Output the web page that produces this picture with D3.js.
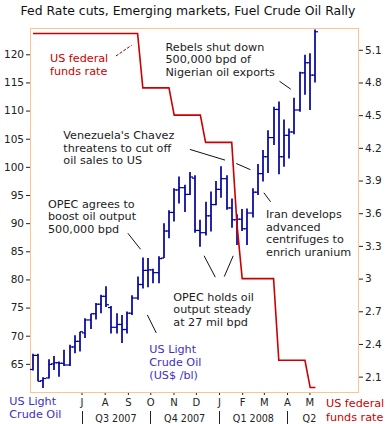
<!DOCTYPE html>
<html>
<head>
<meta charset="utf-8">
<script src="https://cdn.jsdelivr.net/npm/d3@7"></script>
<style>
body { margin: 0; background: #fff; }
svg { display: block; font-family: "DejaVu Sans", Verdana, sans-serif; }
</style>
</head>
<body>
<div id="chart"></div>
<script>
// weekly US light crude bars, week ending friday
var weeks = ["2007-04-27","2007-05-04","2007-05-11","2007-05-18","2007-05-25","2007-06-01","2007-06-08","2007-06-15","2007-06-22","2007-06-29",
  "2007-07-06","2007-07-13","2007-07-20","2007-07-27","2007-08-03","2007-08-10","2007-08-17","2007-08-24","2007-08-31","2007-09-07",
  "2007-09-14","2007-09-21","2007-09-28","2007-10-05","2007-10-12","2007-10-19","2007-10-26","2007-11-02","2007-11-09","2007-11-16",
  "2007-11-23","2007-11-30","2007-12-07","2007-12-14","2007-12-21","2007-12-28","2008-01-04","2008-01-11","2008-01-18","2008-01-25",
  "2008-02-01","2008-02-08","2008-02-15","2008-02-22","2008-02-29","2008-03-07","2008-03-14","2008-03-21","2008-03-28","2008-04-04",
  "2008-04-11","2008-04-18","2008-04-25","2008-05-02","2008-05-09"];
var open = [64.0,66.5,62.0,62.5,65.0,65.2,65.1,64.8,68.0,69.0,70.5,72.8,73.9,75.6,77.0,75.0,71.5,72.0,71.1,74.0,
  76.7,79.1,81.6,81.7,81.2,83.8,88.6,91.9,95.9,96.3,95.1,98.0,88.7,88.3,91.3,93.3,96.0,97.9,92.7,90.6,
  90.7,89.0,91.8,95.5,98.8,101.8,105.2,110.2,101.8,105.6,106.2,110.1,116.7,118.5,116.3];
var high = [66.8,66.8,62.6,65.8,66.4,65.4,67.5,68.4,70.1,70.7,73.1,73.9,75.8,77.3,78.8,75.3,74.0,73.7,74.3,77.2,
  80.5,83.9,83.8,81.9,84.1,90.0,92.3,96.2,98.3,96.8,99.1,98.5,90.6,93.8,95.6,97.5,100.1,98.5,94.4,91.6,
  92.5,92.6,96.2,100.5,103.0,106.5,110.7,111.6,108.4,106.8,112.3,116.9,119.9,120.2,124.4];
var low = [63.8,61.9,60.7,62.4,63.9,62.7,64.6,64.6,66.9,67.2,69.6,71.2,72.9,74.0,75.1,70.4,70.4,68.7,70.4,73.7,
  76.4,78.4,78.6,79.3,79.3,83.8,87.3,90.3,93.5,92.0,95.0,88.3,85.8,87.8,88.5,93.2,94.5,92.4,89.2,86.1,
  88.6,86.1,91.0,95.0,97.4,98.9,103.9,98.7,100.0,101.5,105.8,109.8,112.8,110.1,115.0];
var close = [66.5,61.9,62.4,64.9,65.2,65.1,64.8,68.0,69.0,70.7,72.8,73.9,75.6,77.0,75.5,71.5,72.0,71.1,74.0,76.7,
  79.1,81.6,81.7,81.2,83.7,88.6,91.9,95.9,96.3,95.1,98.2,88.7,88.3,91.3,93.3,96.0,97.9,92.7,90.6,90.7,
  89.0,91.8,95.5,98.8,101.8,105.2,110.2,101.8,105.6,106.2,110.1,116.7,118.5,116.3,124.0];

// fed funds target, same weeks
var fedRate = [5.25,5.25,5.25,5.25,5.25,5.25,5.25,5.25,5.25,5.25,5.25,5.25,5.25,5.25,5.25,5.25,5.25,5.25,5.25,5.25,
  5.25,4.75,4.75,4.75,4.75,4.75,4.75,4.5,4.5,4.5,4.5,4.5,4.5,4.25,4.25,4.25,4.25,4.25,4.25,3.5,
  3.0,3.0,3.0,3.0,3.0,3.0,3.0,2.25,2.25,2.25,2.25,2.25,2.25,2.0,2.0];

var priceTicks = [65,70,75,80,85,90,95,100,105,110,115,120];
var rateTicks = [2.1,2.4,2.7,3.0,3.3,3.6,3.9,4.2,4.5,4.8,5.1];
var monthTicks = ["2007-07-01","2007-08-01","2007-09-01","2007-10-01","2007-11-01","2007-12-01","2008-01-01","2008-02-01","2008-03-01","2008-04-01","2008-05-01"];
var monthLabels = ["J","A","S","O","N","D","J","F","M","A","M"];
var quarterBreaks = ["2007-07-01","2007-10-01","2008-01-01","2008-04-01"];
var quarterMids = ["2007-08-16","2007-11-16","2008-02-16","2008-05-01"];
var quarterLabels = ["Q3 2007","Q4 2007","Q1 2008","Q2"];

var W = 390, H = 424;
var plot = {left: 30, right: 358, top: 28, bottom: 392};
var parse = d3.timeParse("%Y-%m-%d");

var svg = d3.select("#chart").append("svg")
    .attr("width", W)
    .attr("height", H);

var x = d3.scaleTime()
    .domain([parse("2007-04-23"), parse("2008-07-05")])
    .range([plot.left, plot.right]);
var y = d3.scaleLinear()
    .domain([60, 124.67])
    .range([plot.bottom, plot.top]);
var yRate = d3.scaleLinear()
    .domain([1.959, 5.30])
    .range([plot.bottom, plot.top]);

// title
svg.append("text")
    .attr("x", 188).attr("y", 14.5)
    .attr("text-anchor", "middle")
    .style("font-size", "12.4px")
    .attr("fill", "#111")
    .text("Fed Rate cuts, Emerging markets, Fuel Crude Oil Rally");

// axes
var axisColor = "#222";
var gl = svg.append("g")
    .attr("transform", "translate(" + plot.left + ",0)")
    .call(d3.axisLeft(y).tickValues(priceTicks).tickSize(4).tickPadding(2));
var gr = svg.append("g")
    .attr("transform", "translate(" + plot.right + ",0)")
    .call(d3.axisRight(yRate).tickValues(rateTicks).tickSize(5).tickPadding(2)
      .tickFormat(function(d) { return String(+d.toFixed(1)); }));
var gb = svg.append("g")
    .attr("transform", "translate(0," + plot.bottom + ")")
    .call(d3.axisBottom(x).tickValues(monthTicks.map(parse)).tickSize(3).tickPadding(4)
      .tickFormat(function(d, i) { return monthLabels[i]; }));

[gl, gr, gb].forEach(function(g) {
  g.select(".domain").remove();
  g.selectAll(".tick line").attr("stroke", axisColor);
  g.selectAll(".tick text")
    .attr("fill", axisColor)
    .style("font-family", "DejaVu Sans, Verdana, sans-serif")
    .style("font-size", "10.5px");
});
gb.selectAll(".tick text").style("font-size", "10px");

// quarter row
svg.append("g").selectAll("line")
    .data(quarterBreaks)
  .enter().append("line")
    .attr("x1", function(d) { return Math.round(x(parse(d))) + 0.5; })
    .attr("x2", function(d) { return Math.round(x(parse(d))) + 0.5; })
    .attr("y1", 411).attr("y2", 424)
    .attr("stroke", axisColor);
svg.append("g").selectAll("text")
    .data(quarterLabels)
  .enter().append("text")
    .attr("x", function(d, i) { return x(parse(quarterMids[i])); })
    .attr("y", 421.5)
    .attr("text-anchor", "middle")
    .attr("fill", axisColor)
    .style("font-size", "9.6px")
    .text(function(d) { return d; });

// plot frame
svg.append("rect")
    .attr("x", plot.left + 0.5).attr("y", plot.top + 0.5)
    .attr("width", plot.right - plot.left).attr("height", plot.bottom - plot.top)
    .attr("fill", "none")
    .attr("stroke", "#fcc58c");

svg.append("clipPath").attr("id", "clip")
  .append("rect")
    .attr("x", plot.left).attr("y", plot.top - 4)
    .attr("width", plot.right - plot.left).attr("height", plot.bottom - plot.top + 4);

var bars = weeks.map(function(d, i) {
  return {date: parse(d), o: open[i], h: high[i], l: low[i], c: close[i], rate: fedRate[i]};
});

// OHLC bars
var barColor = "#00009c";
var g = svg.append("g").attr("clip-path", "url(#clip)");
var bar = g.selectAll(".bar")
    .data(bars)
  .enter().append("g")
    .attr("class", "bar")
    .attr("transform", function(d) { return "translate(" + Math.round(x(d.date)) + ",0)"; });
bar.append("line")
    .attr("y1", function(d) { return y(d.h); })
    .attr("y2", function(d) { return y(d.l); })
    .attr("stroke", barColor).attr("stroke-width", 1.7);
bar.append("line")
    .attr("x1", -3).attr("x2", 0)
    .attr("y1", function(d) { return y(d.o); })
    .attr("y2", function(d) { return y(d.o); })
    .attr("stroke", barColor).attr("stroke-width", 1.2);
bar.append("line")
    .attr("x1", 0).attr("x2", 3)
    .attr("y1", function(d) { return y(d.c); })
    .attr("y2", function(d) { return y(d.c); })
    .attr("stroke", barColor).attr("stroke-width", 1.2);

// fed funds line
var rateLine = d3.line()
    .x(function(d) { return x(d.date); })
    .y(function(d) { return yRate(d.rate); });
g.append("path")
    .datum(bars)
    .attr("d", rateLine)
    .attr("fill", "none")
    .attr("stroke", "#cc0000")
    .attr("stroke-width", 1.6);

// annotation leaders, in data units (date, price)
var leaders = [
  [["2007-08-16", 119.7], ["2007-09-06", 121.6]],
  [["2008-03-22", 115.2], ["2008-04-06", 113.8]],
  [["2007-11-23", 103.1], ["2008-01-09", 101.2]],
  [["2008-01-24", 100.6], ["2008-02-12", 99.5]],
  [["2007-09-01", 88.2], ["2007-09-18", 85.35]],
  [["2008-03-01", 95.4], ["2008-03-10", 93.8]],
  [["2007-12-12", 84.2], ["2007-12-27", 80.4]],
  [["2008-01-20", 84.2], ["2008-01-08", 80.5]],
  [["2007-09-27", 73.7], ["2007-10-09", 70.5]]
];
svg.append("g").selectAll("line")
    .data(leaders)
  .enter().append("line")
    .attr("x1", function(d) { return x(parse(d[0][0])); })
    .attr("y1", function(d) { return y(d[0][1]); })
    .attr("x2", function(d) { return x(parse(d[1][0])); })
    .attr("y2", function(d) { return y(d[1][1]); })
    .attr("stroke", function(d, i) { return i == 0 ? "#990000" : "#111"; })
    .attr("stroke-dasharray", function(d, i) { return i == 0 ? "3,1.5" : null; })
    .attr("stroke-width", 1);

// annotation text: x, y of first line centre
var notes = [
  {x: 50, y: 58.3, color: "#cc0000", lines: ["US federal", "funds rate"]},
  {x: 165.5, y: 46.5, color: "#1c1c1c", lines: ["Rebels shut down", "500,000 bpd of", "Nigerian oil exports"]},
  {x: 63.3, y: 135, color: "#1c1c1c", lines: ["Venezuela's Chavez", "threatens to cut off", "oil sales to US"]},
  {x: 48, y: 203.5, color: "#1c1c1c", lines: ["OPEC agrees to", "boost oil output", "500,000 bpd"]},
  {x: 266, y: 214, color: "#1c1c1c", lines: ["Iran develops", "advanced", "centrifuges to", "enrich uranium"]},
  {x: 173.3, y: 296.5, color: "#1c1c1c", lines: ["OPEC holds oil", "output steady", "at 27 mil bpd"]},
  {x: 149.3, y: 349.3, color: "#3f2fc4", lines: ["US Light", "Crude Oil", "(US$ /bl)"]},
  {x: 9.3, y: 401, color: "#3f2fc4", lines: ["US Light", "Crude Oil"], lh: 13},
  {x: 326, y: 402.7, color: "#cc0000", lines: ["US federal", "funds rate"], lh: 14}
];
notes.forEach(function(n) {
  var t = svg.append("text")
      .attr("fill", n.color)
      .style("font-size", "11.2px");
  t.selectAll("tspan")
      .data(n.lines)
    .enter().append("tspan")
      .attr("x", n.x)
      .attr("y", function(d, i) { return n.y + i * (n.lh || 12.7); })
      .attr("dy", "0.36em")
      .text(function(d) { return d; });
});
</script>
</body>
</html>
